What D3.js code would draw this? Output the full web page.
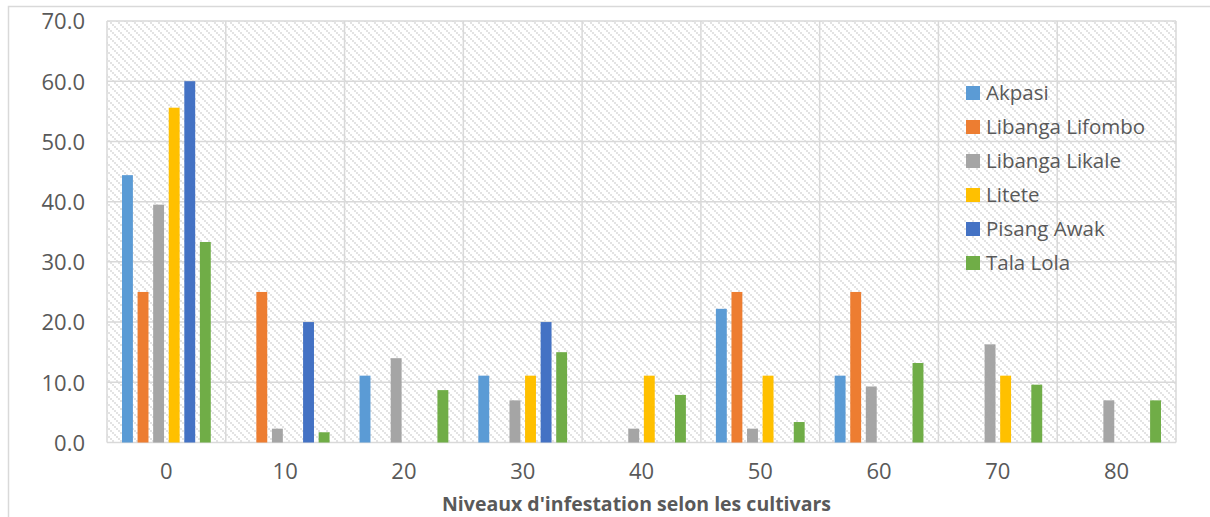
<!DOCTYPE html>
<html>
<head>
<meta charset="utf-8">
<script src="https://cdn.jsdelivr.net/npm/d3@7"></script>
<style>
  html, body { margin: 0; padding: 0; background: #fff; }
  svg { display: block; font-family: "Open Sans", "Noto Sans", sans-serif; }
</style>
</head>
<body>
<svg id="chart" width="1210" height="517"></svg>
<script>
const categories = ["0", "10", "20", "30", "40", "50", "60", "70", "80"];
const seriesNames = ["Akpasi", "Libanga Lifombo", "Libanga Likale", "Litete", "Pisang Awak", "Tala Lola"];
const akpasi  = [44.4, 0, 11.1, 11.1, 0, 22.2, 11.1, 0, 0];
const lifombo = [25.0, 25.0, 0, 0, 0, 25.0, 25.0, 0, 0];
const likale  = [39.5, 2.3, 14.0, 7.0, 2.3, 2.3, 9.3, 16.3, 7.0];
const litete  = [55.6, 0, 0, 11.1, 11.1, 11.1, 0, 11.1, 0];
const pisang  = [60.0, 20.0, 0, 20.0, 0, 0, 0, 0, 0];
const tala    = [33.3, 1.7, 8.7, 15.0, 7.9, 3.4, 13.2, 9.6, 7.0];
const yTicks  = [0, 10, 20, 30, 40, 50, 60, 70];
const colors  = ["#5B9BD5", "#ED7D31", "#A5A5A5", "#FFC000", "#4472C4", "#70AD47"];
const xTitle  = "Niveaux d'infestation selon les cultivars";

const seriesValues = [akpasi, lifombo, likale, litete, pisang, tala];
const svg = d3.select("#chart");

// outer chart border
svg.append("rect").attr("x", 8.5).attr("y", 6.5).attr("width", 1300).attr("height", 600)
  .attr("fill", "#fff").attr("stroke", "#d9d9d9").attr("stroke-width", 1.5);

const plot = { left: 107, right: 1176, top: 21, bottom: 442.5 };

// hatch pattern (light downward diagonal)
const defs = svg.append("defs");
const pat = defs.append("pattern").attr("id", "hatch").attr("patternUnits", "userSpaceOnUse")
  .attr("width", 8).attr("height", 8);
pat.append("rect").attr("width", 8).attr("height", 8).attr("fill", "#fff");
[[0,0],[2,2],[4,4],[6,6]].forEach(([px, py]) => {
  pat.append("rect").attr("x", px).attr("y", py).attr("width", 2).attr("height", 2).attr("fill", "#e3e3e3");
});

const x0 = d3.scaleBand().domain(categories).range([plot.left, plot.right]).padding(0);
const bw = x0.bandwidth();
const x1 = d3.scaleBand().domain(seriesNames).range([15, bw - 15]).paddingInner(0.3).paddingOuter(0);
const y = d3.scaleLinear().domain([0, 70]).range([plot.bottom, plot.top]);

svg.append("rect").attr("x", plot.left).attr("y", plot.top)
  .attr("width", plot.right - plot.left).attr("height", plot.bottom - plot.top)
  .attr("fill", "url(#hatch)");

// horizontal gridlines
svg.append("g").selectAll("line").data(yTicks).join("line")
  .attr("x1", plot.left).attr("x2", plot.right)
  .attr("y1", d => y(d)).attr("y2", d => y(d))
  .attr("stroke", "#d9d9d9").attr("stroke-width", 1.5);

// vertical gridlines at band boundaries
const vlines = categories.map(c => x0(c)).concat([plot.right]);
svg.append("g").selectAll("line").data(vlines).join("line")
  .attr("x1", d => d).attr("x2", d => d)
  .attr("y1", plot.top).attr("y2", plot.bottom)
  .attr("stroke", "#d9d9d9").attr("stroke-width", 1.5);

// bars
const barData = [];
seriesValues.forEach((vals, si) => {
  vals.forEach((v, ci) => {
    if (v > 0) barData.push({ cat: categories[ci], s: seriesNames[si], v, color: colors[si] });
  });
});
svg.append("g").selectAll("rect").data(barData).join("rect")
  .attr("x", d => x0(d.cat) + x1(d.s))
  .attr("width", x1.bandwidth())
  .attr("y", d => y(d.v))
  .attr("height", d => y(0) - y(d.v))
  .attr("fill", d => d.color);

// y axis labels
const yAxis = d3.axisLeft(y).tickValues(yTicks).tickFormat(d3.format(".1f")).tickSize(0).tickPadding(0);
const gy = svg.append("g").attr("transform", "translate(85,0)").call(yAxis);
gy.select(".domain").remove();
gy.selectAll("text").attr("fill", "#595959").style("font-size", "22px")
  .style("font-family", "'Open Sans', sans-serif").attr("dy", "0.36em");

// x axis labels
const xAxis = d3.axisBottom(x0).tickSize(0).tickPadding(0);
const gx = svg.append("g").attr("transform", "translate(0,463)").call(xAxis);
gx.select(".domain").remove();
gx.selectAll("text").attr("fill", "#595959").style("font-size", "22px")
  .style("font-family", "'Open Sans', sans-serif").attr("dy", "0.71em");

// x title
svg.append("text").attr("x", (plot.left + plot.right) / 2 - 5).attr("y", 511)
  .attr("text-anchor", "middle").attr("fill", "#595959")
  .style("font-size", "19.5px").style("font-weight", "bold").text(xTitle);

// legend
const lg = svg.append("g").attr("transform", "translate(966,93)");
const items = lg.selectAll("g").data(seriesNames).join("g")
  .attr("transform", (d, i) => `translate(0,${i * 34})`);
items.append("rect").attr("x", 0).attr("y", -7).attr("width", 14).attr("height", 14)
  .attr("fill", (d, i) => colors[i]);
items.append("text").attr("x", 20).attr("y", 0).attr("dy", "0.35em")
  .attr("fill", "#595959").style("font-size", "20.5px").text(d => d);
</script>
</body>
</html>
